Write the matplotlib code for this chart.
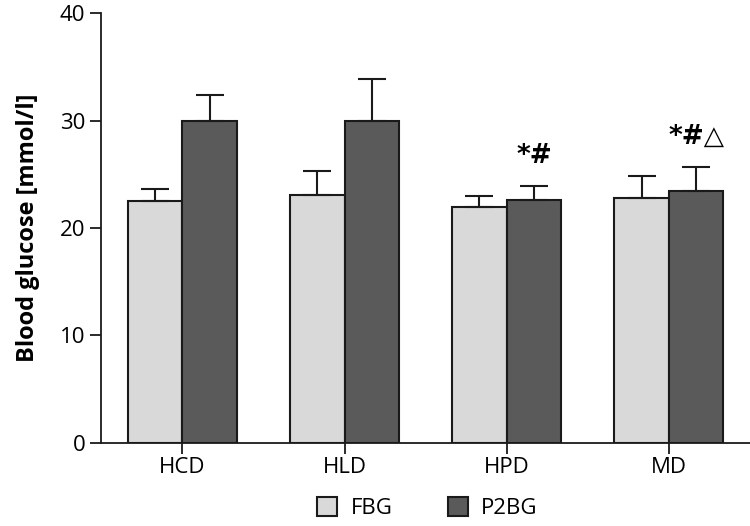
import matplotlib
matplotlib.use('Agg')
import matplotlib.pyplot as plt
import numpy as np

plt.rcParams['font.family'] = ['Open Sans', 'DejaVu Sans']

groups = ["HCD", "HLD", "HPD", "MD"]
fbg = [22.5, 23.1, 22.0, 22.8]
fbg_err = [1.1, 2.2, 1.0, 2.0]
p2bg = [30.0, 30.0, 22.6, 23.4]
p2bg_err = [2.4, 3.9, 1.3, 2.3]
marks = ["", "", "*#", "*#\u25b3"]

fig = plt.figure(figsize=(7.5, 5.26), dpi=100)
ax = fig.add_axes([0.135, 0.158, 0.865, 0.817])

x = np.arange(len(groups))
w = 0.336
err_style = dict(ecolor='#1a1a1a', elinewidth=1.5, capsize=10, capthick=1.5)
ax.bar(x - w / 2, fbg, w, color='#d9d9d9', edgecolor='#1a1a1a', linewidth=1.5,
       yerr=[np.zeros(4), fbg_err], error_kw=err_style, label='FBG')
ax.bar(x + w / 2, p2bg, w, color='#5a5a5a', edgecolor='#1a1a1a', linewidth=1.5,
       yerr=[np.zeros(4), p2bg_err], error_kw=err_style, label='P2BG')

for i, m in enumerate(marks):
    if m:
        ax.text(x[i] + w / 2, p2bg[i] + p2bg_err[i] + 1.6, m, ha='center', va='bottom',
                fontsize=19, fontweight='bold', family=['DejaVu Sans'])

ax.set_xlim(-0.5, 3.5)
ax.set_ylim(0, 40)
ax.set_yticks([0, 10, 20, 30, 40])
ax.set_xticks(x)
ax.set_xticklabels(groups)
ax.tick_params(axis='both', labelsize=16, width=1.3, length=8, color='#1a1a1a')
ax.tick_params(axis='x', pad=2)
for s in ['top', 'right']:
    ax.spines[s].set_visible(False)
for s in ['left', 'bottom']:
    ax.spines[s].set_linewidth(1.3)
    ax.spines[s].set_color('#1a1a1a')
ax.set_ylabel("Blood glucose [mmol/l]", fontsize=17, fontweight='bold', labelpad=14)

fig.legend(loc='lower center', bbox_to_anchor=(0.57, -0.025), ncol=2, frameon=False,
           fontsize=16, handlelength=0.9, handleheight=0.9, columnspacing=2.5, handletextpad=0.6)

fig.savefig("out.png", dpi=100)
